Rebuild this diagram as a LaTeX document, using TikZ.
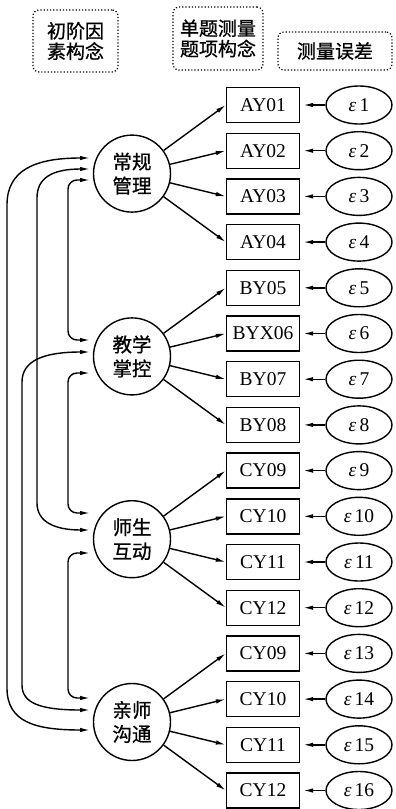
\documentclass[tikz,border=0pt]{standalone}
\usepackage{fontspec}
\setmainfont{Liberation Serif}
\newfontfamily\cjk{Noto Sans CJK SC}[FakeBold=0.8]
\usetikzlibrary{arrows.meta,shapes.geometric}
\begin{document}
\begin{tikzpicture}[x=1pt,y=-1pt,
  lw/.style={line width=1.4pt},
  item/.style={draw,lw,minimum width=73pt,minimum height=35pt,inner sep=0pt,font=\fontsize{19.5}{22}\selectfont},
  err/.style={draw,lw,ellipse,minimum width=66pt,minimum height=38pt,inner sep=0pt,font=\fontsize{19.5}{22}\selectfont},
  factor/.style={draw,lw,circle,minimum size=77pt,inner sep=0pt,align=center,font=\cjk\fontsize{19.5}{24}\selectfont},
  lab/.style={draw,dotted,line width=1.2pt,rounded corners=6pt,align=center,inner sep=0pt,font=\cjk\fontsize{19}{20.5}\selectfont},
  arr/.style={lw,-{Latex[length=10pt,width=4.5pt]}},
  cov/.style={lw,{Latex[length=10pt,width=4.5pt]}-{Latex[length=10pt,width=4.5pt]}},
]
\useasboundingbox (0,0) rectangle (396,809);

% header labels
\node[lab,minimum width=85pt,minimum height=62pt] (hA) at (75.5,41) {初阶因\\素构念};
\node[lab,minimum width=90pt,minimum height=63pt] (hB) at (218,38.5) {单题测量\\题项构念};
\node[lab,minimum width=114pt,minimum height=38pt] (hC) at (335,51) {测量误差};

% items and errors
\foreach \i/\t in {0/AY01,1/AY02,2/AY03,3/AY04,4/BY05,5/BYX06,6/BY07,7/BY08,
                   8/CY09,9/CY10,10/CY11,11/CY12,12/CY09,13/CY10,14/CY11,15/CY12}{
  \pgfmathtruncatemacro\n{\i+1}
  \node[item] (x\i) at (263,{105+45.7*\i}) {\t};
  \node[err] (e\i) at (359,{105+45.7*\i}) {{\itshape ε}\,\n};
  \draw[arr,shorten >=3pt] (e\i) -- (x\i);
}

% factors
\node[factor] (F1) at (132,173.6) {常规\\管理};
\node[factor] (F2) at (132,356.4) {教学\\掌控};
\node[factor] (F3) at (132,539.2) {师生\\互动};
\node[factor] (F4) at (132,722.0) {亲师\\沟通};

\foreach \k in {0,1,2,3}{\draw[arr] (F1) -- (x\k.west);}
\foreach \k in {4,5,6,7}{\draw[arr] (F2) -- (x\k.west);}
\foreach \k in {8,9,10,11}{\draw[arr] (F3) -- (x\k.west);}
\foreach \k in {12,13,14,15}{\draw[arr] (F4) -- (x\k.west);}

% covariance end points
\coordinate (c1a) at (90,158);  \coordinate (c1b) at (90,730);
\coordinate (c2a) at (90,169);  \coordinate (c2b) at (90,530);
\coordinate (c3a) at (90,180);  \coordinate (c3b) at (90,340);
\coordinate (c4a) at (90,352);  \coordinate (c4b) at (90,710);
\coordinate (c5a) at (90,373);  \coordinate (c5b) at (90,513);
\coordinate (c6a) at (90,553);  \coordinate (c6b) at (90,698);

\draw[cov] (c1a) .. controls (35,158) and (7,170) .. (7,205) -- (7,688)
  .. controls (7,722) and (35,730) .. (c1b);
\draw[cov] (c2a) .. controls (52,169) and (37,178) .. (37,198) -- (37,503)
  .. controls (37,522) and (55,530) .. (c2b);
\draw[cov,rounded corners=9pt] (c3a) -| (68,340) -- (c3b);
\draw[cov] (c4a) .. controls (45,352) and (22,360) .. (22,382) -- (22,685)
  .. controls (22,703) and (40,710) .. (c4b);
\draw[cov,rounded corners=9pt] (c5a) -| (68,513) -- (c5b);
\draw[cov,rounded corners=9pt] (c6a) -| (68,698) -- (c6b);
\end{tikzpicture}
\end{document}
